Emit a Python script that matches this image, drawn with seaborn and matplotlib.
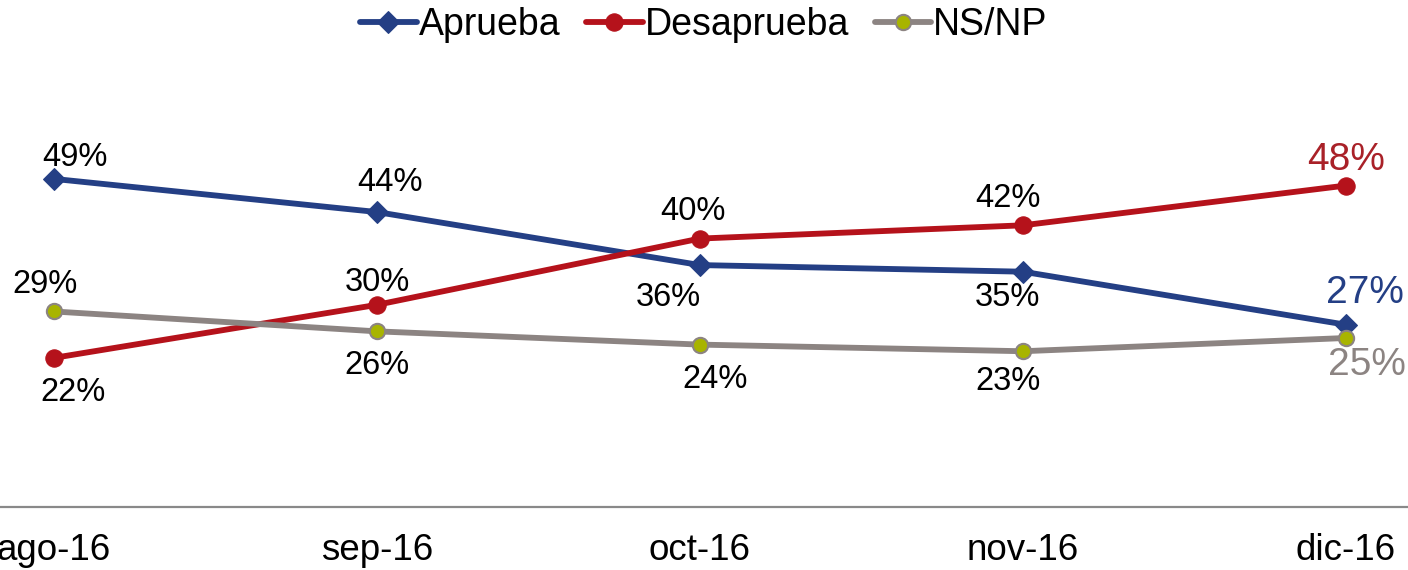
import matplotlib
matplotlib.use('Agg')
import matplotlib.pyplot as plt
import seaborn as sns
import pandas as pd

sns.set_style('white')
plt.rcParams['font.family'] = ['Liberation Sans', 'DejaVu Sans']
plt.rcParams['text.color'] = 'black'
plt.rcParams['xtick.color'] = 'black'

# Datos
meses = ['ago-16', 'sep-16', 'oct-16', 'nov-16', 'dic-16']
aprueba = [49, 44, 36, 35, 27]
desaprueba = [22, 30, 40, 42, 48]
nsnp = [29, 26, 24, 23, 25]

series = {'Aprueba': aprueba, 'Desaprueba': desaprueba, 'NS/NP': nsnp}

# Estilo de cada serie
estilos = {
    'Aprueba': dict(color='#243F85', marker='D', markersize=11,
                    markerfacecolor='#243F85', markeredgecolor='#243F85'),
    'Desaprueba': dict(color='#B5121B', marker='o', markersize=12.5,
                       markerfacecolor='#B5121B', markeredgecolor='#B5121B'),
    'NS/NP': dict(color='#8C8482', marker='o', markersize=11,
                  markerfacecolor='#A8B400', markeredgecolor='#8C8482',
                  markeredgewidth=1.5),
}
color_ultimo = {'Aprueba': '#243F85', 'Desaprueba': '#A92128', 'NS/NP': '#8C8482'}

# desplazamiento de etiquetas (pixeles)
offsets = {
    'Aprueba': [(21, 21), (13, 30), (-32, -32), (-16, -26), (19, 32)],
    'Desaprueba': [(19, -35), (0, 22), (-7, 27), (-15, 27), (0, 26)],
    'NS/NP': [(-9, 27), (0, -34), (15, -35), (-15, -30), (21, -27)],
}

fig = plt.figure(figsize=(14.08, 5.7), dpi=100)
ax = fig.add_axes([0, 63 / 570, 1, 401 / 570])

for nombre, valores in series.items():
    df = pd.DataFrame({'mes': meses, 'valor': valores})
    sns.lineplot(data=df, x='mes', y='valor', ax=ax, label=nombre,
                 linewidth=4.2, sort=False, **estilos[nombre])
    for i, v in enumerate(valores):
        ultimo = i == len(valores) - 1
        ax.annotate(f'{v}%', (i, v), xytext=offsets[nombre][i],
                    textcoords='offset pixels', ha='center', va='center',
                    fontsize=28 if ultimo else 23.5,
                    color=color_ultimo[nombre] if ultimo else 'black')

ax.set_xlim(-0.167, 4.192)
ax.set_ylim(-0.5, 60)
ax.set_xlabel('')
ax.set_ylabel('')
ax.set_yticks([])
ax.tick_params(axis='x', length=0, pad=19, labelsize=26.5, labelcolor='black')
for s in ['top', 'left', 'right']:
    ax.spines[s].set_visible(False)
ax.spines['bottom'].set_color('#898989')
ax.spines['bottom'].set_linewidth(1.6)

leg = ax.legend(loc='center', bbox_to_anchor=(0.5, 545 / 570), bbox_transform=fig.transFigure,
                ncol=3, frameon=False, fontsize=27, handlelength=1.5,
                handletextpad=0.05, columnspacing=0.7, borderaxespad=0)
for t in leg.get_texts():
    t.set_color('black')

fig.savefig('out.png', dpi=100)
